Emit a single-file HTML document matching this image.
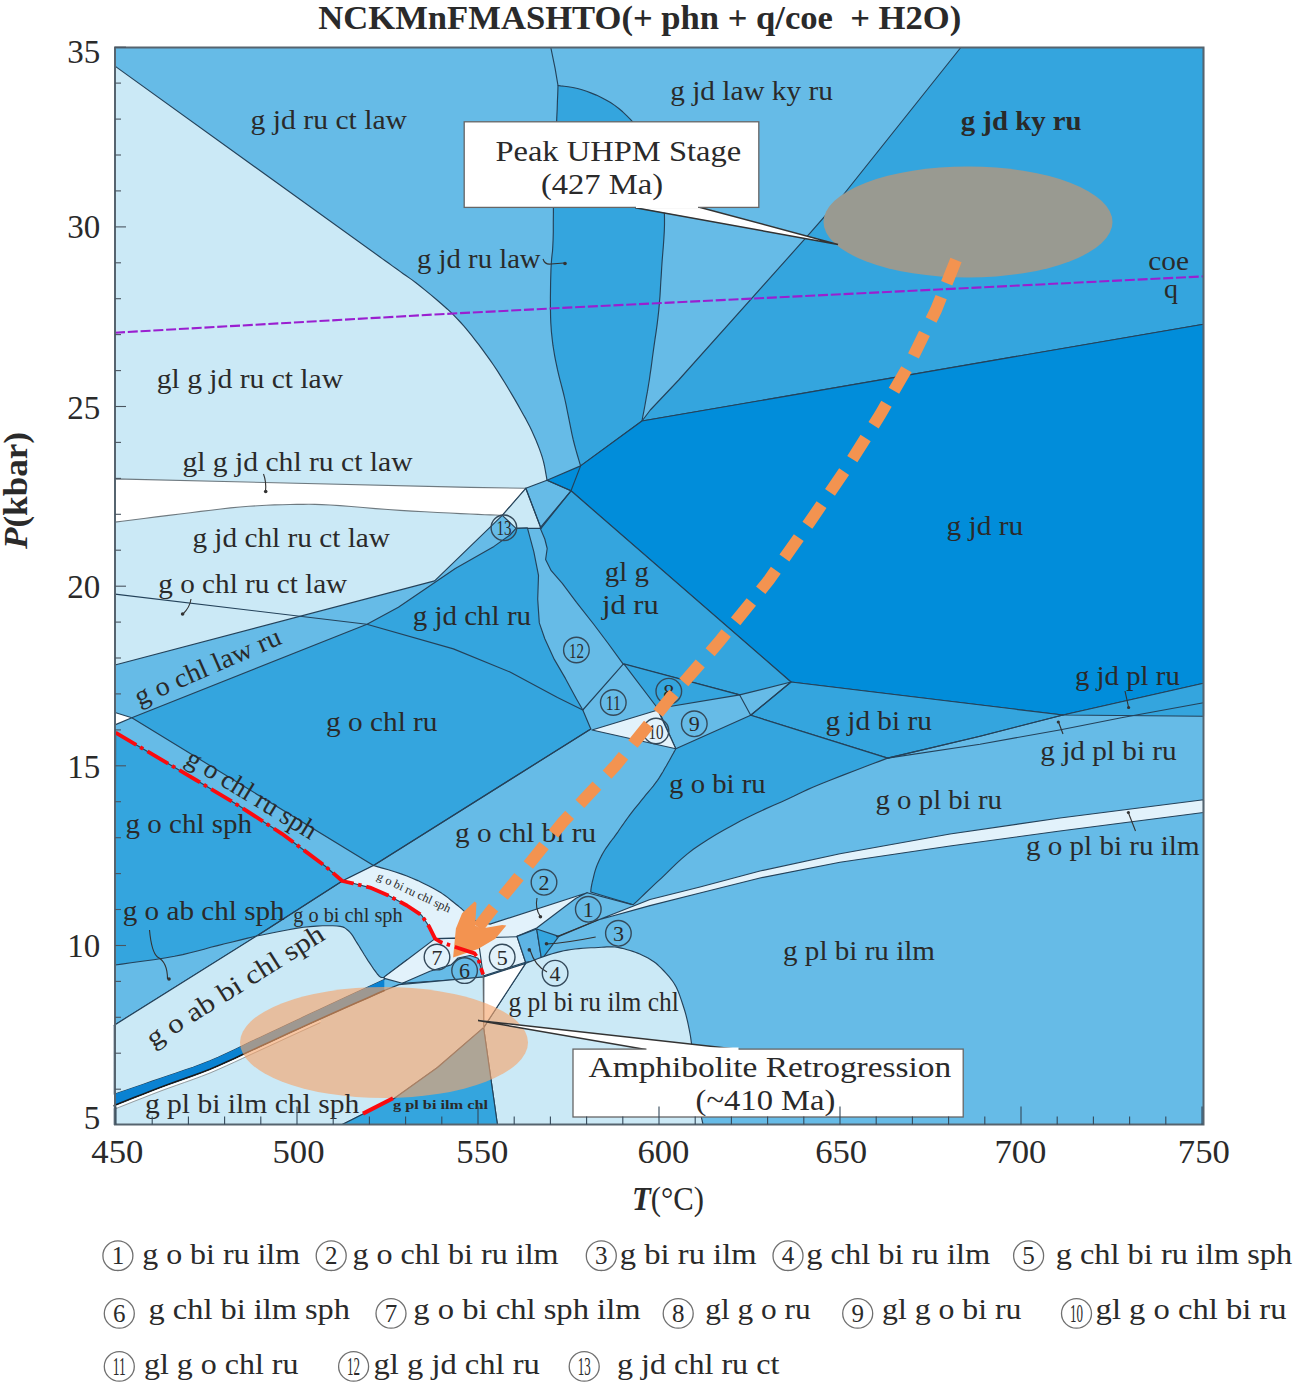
<!DOCTYPE html>
<html><head><meta charset="utf-8"><style>
html,body{margin:0;padding:0;background:#fff;}
svg{display:block;}
text{font-family:"Liberation Serif",serif;fill:#2a2a2a;}
</style></head><body>
<svg width="1302" height="1389" viewBox="0 0 1302 1389">
<rect width="1302" height="1389" fill="#fff"/>
<rect x="115" y="47.5" width="1088.5" height="1077.0" fill="#66bbe7"/>
<polygon points="115.0,66.1 380.0,257.0 382.2,258.6 385.2,260.7 388.8,263.3 392.6,266.1 396.4,268.8 400.0,271.4 403.2,273.7 406.2,275.8 409.2,277.9 412.4,280.1 415.9,282.8 420.0,286.0 424.8,289.9 430.3,294.4 436.1,299.2 441.9,304.3 447.5,309.2 452.5,313.9 456.8,318.3 460.7,322.5 464.4,326.6 467.9,330.9 471.4,335.2 475.0,339.8 478.8,344.6 482.5,349.7 486.3,354.8 490.1,360.1 493.8,365.5 497.4,370.9 501.0,376.6 504.7,382.5 508.3,388.5 511.8,394.4 515.2,400.1 518.2,405.4 520.9,410.2 523.4,414.7 525.8,418.9 527.9,423.0 530.0,427.1 532.0,431.3 534.0,435.7 535.9,440.1 537.7,444.5 539.4,448.9 540.9,453.1 542.3,457.3 543.5,461.6 544.5,466.0 545.3,470.4 546.0,474.4 546.6,477.7 547.0,480.2 525.8,488.3 502.3,515.3 434.6,580.9 115.0,665.0" fill="#cbe9f6" stroke="#24425a" stroke-width="1.15" stroke-linejoin="round"/>
<polygon points="115.0,478.9 470.0,487.4 525.8,488.3 502.3,515.3 499.2,515.2 495.3,515.0 490.5,514.9 484.8,514.7 477.9,514.4 470.0,514.0 460.5,513.6 449.5,513.0 437.4,512.5 424.7,511.8 412.1,511.1 400.0,510.4 388.0,509.5 375.6,508.6 363.1,507.5 351.1,506.5 339.9,505.6 330.0,505.0 321.7,504.6 314.8,504.4 308.8,504.3 303.0,504.3 296.9,504.4 290.0,504.5 282.4,504.7 274.4,504.9 266.2,505.3 257.8,505.7 249.0,506.3 240.0,507.0 230.6,507.9 220.9,509.0 210.9,510.2 200.7,511.4 190.4,512.7 180.0,514.0 168.7,515.4 156.3,516.9 143.8,518.5 132.0,520.0 122.1,521.2 115.0,522.1" fill="#ffffff" stroke="#6f7a80" stroke-width="1.15" stroke-linejoin="round"/>
<polygon points="525.8,488.3 541.0,528.4 516.0,528.4 502.3,515.3" fill="#cbe9f6" stroke="#24425a" stroke-width="1.15" stroke-linejoin="round"/>
<polyline points="550.8,47.5 555.1,68.4 558.0,85.5" fill="none" stroke="#24425a" stroke-width="1.15" stroke-linejoin="round" stroke-linecap="round" />
<polygon points="558.0,85.5 560.6,85.9 564.1,86.3 568.2,86.8 572.8,87.5 577.5,88.5 582.0,89.7 586.6,91.3 591.4,93.1 596.3,95.1 601.3,97.4 606.0,99.9 610.5,102.5 614.7,105.4 618.8,108.5 622.7,111.8 626.4,115.3 629.9,118.8 633.2,122.4 636.2,126.0 638.9,129.6 641.4,133.4 643.7,137.2 645.9,141.1 648.0,145.0 650.0,149.0 651.9,153.2 653.6,157.3 655.2,161.6 656.7,165.8 658.0,170.0 659.2,174.1 660.2,178.2 661.0,182.2 661.8,186.3 662.4,190.6 663.0,195.0 663.5,199.5 663.9,204.1 664.2,208.8 664.4,213.7 664.5,218.9 664.5,224.7 664.3,231.1 663.9,237.9 663.4,245.2 662.8,252.6 662.2,260.0 661.7,267.3 661.3,274.4 660.8,281.5 660.4,288.7 660.0,295.8 659.4,302.9 658.8,310.0 658.0,317.2 657.1,324.6 656.1,331.9 655.0,339.2 654.0,346.1 653.1,352.6 652.3,358.5 651.6,364.0 650.9,369.2 650.1,374.3 649.4,379.5 648.5,385.0 647.5,391.2 646.2,398.1 645.0,405.0 643.8,411.5 642.7,417.0 642.0,421.0 580.6,465.9 579.8,463.3 578.8,459.8 577.5,455.5 576.1,450.7 574.7,445.5 573.3,440.0 571.9,433.8 570.5,426.9 569.0,419.4 567.5,412.0 566.1,404.9 564.7,398.5 563.4,393.0 562.1,388.0 560.9,383.3 559.7,378.8 558.6,374.4 557.5,369.7 556.5,364.9 555.5,360.1 554.6,355.3 553.8,350.5 553.0,345.7 552.4,340.9 551.9,336.3 551.4,331.8 551.1,327.3 550.8,322.7 550.6,317.6 550.5,312.0 550.4,305.5 550.4,298.1 550.5,290.4 550.6,282.7 550.8,275.3 551.0,268.8 551.3,263.5 551.6,259.2 552.0,255.3 552.5,251.2 552.8,246.3 553.1,240.0 553.3,232.0 553.3,222.8 553.4,212.8 553.4,202.3 553.5,191.9 553.7,182.0 554.1,172.2 554.5,162.3 555.0,152.3 555.6,142.7 556.1,133.5 556.5,125.0 556.8,116.9 557.2,109.1 557.4,101.7 557.7,95.1 557.9,89.6" fill="#34a5de" stroke="#24425a" stroke-width="1.15" stroke-linejoin="round"/>
<polygon points="960.8,47.5 1203.5,47.5 1203.5,324.2 642.0,421.0 650.3,410.0 678.7,380.0 810.0,233.2 840.0,199.0" fill="#34a5de" stroke="#24425a" stroke-width="1.15" stroke-linejoin="round"/>
<polygon points="547.0,480.2 580.6,465.9 642.0,421.0 1203.5,324.2 1203.5,683.3 1063.0,715.0 791.0,682.0 571.0,490.8" fill="#018dda" stroke="#24425a" stroke-width="1.15" stroke-linejoin="round"/>
<polyline points="580.6,465.9 571.0,490.8" fill="none" stroke="#24425a" stroke-width="1.15" stroke-linejoin="round" stroke-linecap="round" />
<polygon points="571.0,490.8 791.0,682.0 739.7,694.9 623.2,664.1 608.2,643.5 593.9,624.5 576.5,602.3 562.3,583.3 551.2,570.7 545.6,559.6 547.2,548.5 544.8,539.0 540.1,527.9" fill="#34a5de" stroke="#24425a" stroke-width="1.15" stroke-linejoin="round"/>
<polygon points="623.9,663.9 739.7,694.9 657.8,708.5" fill="#34a5de" stroke="#24425a" stroke-width="1.15" stroke-linejoin="round"/>
<polyline points="657.8,708.5 675.8,748.8" fill="none" stroke="#24425a" stroke-width="1.15" stroke-linejoin="round" stroke-linecap="round" />
<polyline points="739.7,694.9 750.7,715.3" fill="none" stroke="#24425a" stroke-width="1.15" stroke-linejoin="round" stroke-linecap="round" />
<polyline points="582.8,710.0 623.2,664.1" fill="none" stroke="#24425a" stroke-width="1.15" stroke-linejoin="round" stroke-linecap="round" />
<polygon points="592.0,730.0 657.8,710.0 675.8,748.8" fill="#e2f2fb" stroke="#24425a" stroke-width="1.15" stroke-linejoin="round"/>
<polyline points="525.8,488.3 541.0,528.4" fill="none" stroke="#24425a" stroke-width="1.15" stroke-linejoin="round" stroke-linecap="round" />
<polyline points="541.0,528.4 571.0,490.8" fill="none" stroke="#24425a" stroke-width="1.15" stroke-linejoin="round" stroke-linecap="round" />
<polyline points="547.0,480.2 571.0,490.8" fill="none" stroke="#24425a" stroke-width="1.15" stroke-linejoin="round" stroke-linecap="round" />
<polygon points="791.0,682.0 1063.0,715.0 980.0,736.2 887.6,758.1 750.7,715.3" fill="#34a5de" stroke="#24425a" stroke-width="1.15" stroke-linejoin="round"/>
<polyline points="791.0,682.0 750.7,715.3" fill="none" stroke="#24425a" stroke-width="1.15" stroke-linejoin="round" stroke-linecap="round" />
<polygon points="1063.0,715.0 1203.5,683.3 1203.5,716.3" fill="#34a5de" stroke="#24425a" stroke-width="1.15" stroke-linejoin="round"/>
<polygon points="675.8,748.8 750.7,715.3 887.6,758.1 879.8,761.1 868.7,765.3 855.8,770.2 842.4,775.4 830.0,780.2 820.0,784.2 812.8,787.2 807.4,789.6 802.9,791.7 798.7,793.7 794.1,796.0 788.3,798.7 781.3,801.9 773.6,805.3 765.5,808.9 757.2,812.7 748.9,816.7 740.8,820.8 732.7,825.2 724.4,829.8 716.1,834.6 708.0,839.6 700.3,844.5 693.3,849.3 687.1,854.1 681.5,858.9 676.3,863.6 671.4,868.4 666.6,873.1 661.7,877.8 656.4,882.7 650.9,887.9 645.5,893.0 640.5,897.8 636.3,901.8 633.2,904.7 590.7,892.0 590.8,891.2 590.9,890.2 591.0,889.0 591.2,887.6 591.5,885.9 591.9,883.9 592.4,881.5 593.1,878.8 593.8,875.8 594.6,872.7 595.5,869.6 596.5,866.7 597.6,863.9 598.8,861.2 600.1,858.5 601.4,855.9 602.9,853.2 604.5,850.5 606.2,847.9 608.0,845.3 609.9,842.7 611.9,840.0 614.0,837.3 616.1,834.4 618.3,831.3 620.5,828.0 622.9,824.7 625.2,821.3 627.6,818.0 629.9,814.8 632.2,811.8 634.5,808.9 636.8,806.1 639.1,803.3 641.4,800.4 643.7,797.6 646.0,794.7 648.4,791.8 650.8,789.0 653.2,786.1 655.4,783.2 657.5,780.3 659.5,777.4 661.3,774.4 663.1,771.5 664.7,768.5 666.4,765.7 667.9,763.0 669.5,760.3 671.0,757.5 672.5,754.8 673.8,752.4 675.0,750.3" fill="#34a5de" stroke="#24425a" stroke-width="1.15" stroke-linejoin="round"/>
<polyline points="887.6,758.1 980.0,744.2 1059.5,730.0 1121.3,717.7 1203.5,702.7" fill="none" stroke="#24425a" stroke-width="1.15" stroke-linejoin="round" stroke-linecap="round" />
<polyline points="887.6,758.1 980.0,736.2 1063.0,715.0" fill="none" stroke="#24425a" stroke-width="1.15" stroke-linejoin="round" stroke-linecap="round" />
<polygon points="131.8,717.8 367.0,624.3 398.4,607.3 455.3,568.5 494.0,546.4 510.0,535.0 516.0,528.4 527.4,527.9 533.8,551.7 538.5,575.4 537.7,599.2 539.3,622.9 544.8,638.8 554.3,659.4 565.4,678.4 576.5,698.9 582.8,710.0 590.8,729.0 373.5,865.5" fill="#34a5de" stroke="#24425a" stroke-width="1.15" stroke-linejoin="round"/>
<polyline points="115.0,594.1 366.8,624.2 453.4,648.9 510.0,672.0 557.5,697.4 582.8,710.0" fill="none" stroke="#24425a" stroke-width="1.15" stroke-linejoin="round" stroke-linecap="round" />
<polygon points="115.0,712.5 131.8,717.8 115.0,724.9" fill="#ffffff" stroke="#24425a" stroke-width="1.15" stroke-linejoin="round"/>
<polygon points="115.6,732.7 196.0,780.0 239.0,805.8 282.0,833.8 325.0,866.0 342.3,881.0 256.7,936.0 252.5,937.0 246.7,938.4 239.8,940.1 232.3,942.0 224.7,943.8 217.5,945.6 210.7,947.3 204.1,949.2 197.3,951.0 190.2,952.8 182.7,954.6 174.5,956.3 164.8,958.0 153.7,959.7 142.1,961.3 131.0,962.8 121.7,964.1 115.0,965.0" fill="#34a5de" stroke="#24425a" stroke-width="1.15" stroke-linejoin="round"/>
<polyline points="114.3,1025.2 256.7,936.0 342.3,881.0 373.5,865.5 590.8,729.0" fill="none" stroke="#24425a" stroke-width="1.15" stroke-linejoin="round" stroke-linecap="round" />
<polygon points="114.3,1025.2 256.7,936.0 261.9,935.0 269.3,933.5 278.0,931.7 287.2,930.0 295.9,928.4 303.5,927.3 310.1,926.6 316.5,926.1 322.4,925.8 327.9,925.7 332.8,925.8 337.0,926.0 340.2,926.4 342.6,926.9 344.4,927.6 345.8,928.6 347.2,929.7 348.7,931.0 350.3,932.6 351.7,934.4 353.1,936.4 354.4,938.6 355.8,941.0 357.3,943.4 359.0,946.0 360.7,948.9 362.5,951.8 364.3,954.8 366.2,957.8 368.0,960.6 369.9,963.4 371.8,966.3 373.7,969.1 375.6,971.7 377.3,974.0 378.8,975.7 380.1,976.8 381.2,977.4 382.2,977.5 383.1,977.5 383.8,977.5 384.3,977.5 384.3,979.5 377.3,982.7 367.5,987.3 355.9,992.6 343.5,998.3 331.2,1004.0 320.0,1009.2 309.6,1014.0 299.3,1018.9 289.1,1023.7 279.1,1028.4 269.4,1033.0 260.0,1037.4 251.1,1041.6 242.6,1045.8 234.4,1049.8 226.3,1053.6 218.2,1057.3 210.0,1060.8 201.6,1064.1 193.2,1067.2 184.7,1070.1 176.3,1073.0 168.1,1075.7 160.0,1078.5 151.6,1081.4 142.8,1084.5 134.0,1087.5 126.0,1090.2 119.2,1092.5 114.3,1094.2" fill="#cbe9f6" stroke="#24425a" stroke-width="1.15" stroke-linejoin="round"/>
<polyline points="384.3,977.0 406.8,960.0" fill="none" stroke="#24425a" stroke-width="1.15" stroke-linejoin="round" stroke-linecap="round" />
<polygon points="342.3,881.0 373.5,865.5 377.2,866.6 382.3,868.1 388.3,869.8 394.7,871.8 401.1,873.9 406.9,876.0 412.3,878.2 417.8,880.6 423.2,883.2 428.4,885.7 433.2,888.3 437.6,890.7 441.5,893.1 445.0,895.5 448.2,897.9 451.0,900.2 453.6,902.3 456.0,904.2 458.0,905.8 459.6,907.1 461.0,908.2 462.2,909.3 463.3,910.4 464.6,911.6 466.0,913.0 467.4,914.6 468.8,916.3 470.1,917.8 471.2,919.1 472.0,920.0 490.0,924.1 587.1,892.7 576.0,898.3 536.7,928.0 517.0,936.4 525.6,962.2 480.7,976.8 483.1,974.3 480.6,966.9 478.1,958.3 474.5,953.4 456.0,947.2 441.3,942.3 435.1,938.6 429.0,926.4 421.6,915.3 406.9,905.5 388.4,895.6 370.0,887.6 352.9,883.3" fill="#e2f2fb" stroke="#24425a" stroke-width="1.15" stroke-linejoin="round"/>
<polygon points="435.1,938.6 478.0,938.0 483.1,974.3 484.3,977.8 402.3,983.3 384.3,978.4 384.3,976.9 406.8,960.0" fill="#e2f2fb" stroke="#24425a" stroke-width="1.15" stroke-linejoin="round"/>
<polygon points="402.3,983.3 429.9,971.3 451.1,964.9 458.0,958.0 470.0,955.5 478.1,958.3 480.6,966.9 483.1,974.3 484.3,977.8" fill="#66bbe7" stroke="#24425a" stroke-width="1.15" stroke-linejoin="round"/>
<polyline points="435.1,938.6 517.5,936.8" fill="none" stroke="#24425a" stroke-width="1.15" stroke-linejoin="round" stroke-linecap="round" />
<polygon points="517.0,936.4 536.7,929.0 541.6,959.7 525.6,962.2" fill="#5db4e4" stroke="#24425a" stroke-width="1.15" stroke-linejoin="round"/>
<polygon points="536.7,929.0 558.8,936.4 541.6,959.7" fill="#34a5de" stroke="#24425a" stroke-width="1.15" stroke-linejoin="round"/>
<polygon points="598.0,920.0 650.0,899.5 700.0,887.0 760.0,871.0 840.0,853.7 950.0,834.0 1060.0,818.0 1203.5,799.7 1203.5,812.5 1060.0,831.0 950.0,846.0 840.0,862.2 760.0,878.0 700.0,893.0 650.0,905.6" fill="#e2f2fb" stroke="#24425a" stroke-width="1.15" stroke-linejoin="round"/>
<polyline points="587.1,892.7 631.3,904.4" fill="none" stroke="#24425a" stroke-width="1.15" stroke-linejoin="round" stroke-linecap="round" />
<polyline points="598.0,920.0 558.8,936.4" fill="none" stroke="#24425a" stroke-width="1.15" stroke-linejoin="round" stroke-linecap="round" />
<polygon points="525.6,963.4 528.5,962.3 532.6,960.7 537.5,958.8 542.6,956.9 547.7,955.1 552.2,953.7 556.2,952.6 560.1,951.6 563.8,950.8 567.5,950.1 571.2,949.5 575.0,949.0 578.9,948.6 582.9,948.2 587.0,948.0 590.9,947.8 594.7,947.7 598.2,947.5 601.4,947.3 604.2,947.1 606.9,946.9 609.6,946.8 612.2,946.8 615.0,947.0 618.0,947.4 621.0,948.1 624.1,948.8 627.2,949.7 630.1,950.5 632.8,951.4 635.3,952.2 637.6,953.1 639.8,954.0 641.8,954.9 643.9,955.9 646.0,957.0 648.0,958.1 650.0,959.2 651.9,960.4 653.9,961.7 656.0,963.3 658.2,965.3 660.7,967.7 663.5,970.5 666.4,973.6 669.3,976.9 672.0,980.3 674.3,983.7 676.3,987.3 678.0,991.0 679.5,994.9 680.9,998.9 682.2,1002.8 683.5,1006.7 684.7,1010.5 685.8,1014.4 686.8,1018.3 687.7,1022.1 688.5,1026.0 689.3,1029.8 690.0,1033.5 690.6,1037.0 691.1,1040.6 691.6,1044.3 692.1,1048.3 692.7,1052.8 693.4,1058.0 694.1,1063.9 694.9,1070.1 695.6,1076.3 696.3,1082.2 697.0,1087.4 697.6,1092.0 698.1,1096.1 698.6,1100.0 699.0,1103.5 699.5,1106.8 700.0,1110.0 700.5,1113.1 701.1,1116.0 701.7,1118.7 702.2,1121.0 702.7,1123.0 703.0,1124.5 497.4,1124.5 483.6,1027.6" fill="#cbe9f6" stroke="#24425a" stroke-width="1.15" stroke-linejoin="round"/>
<polygon points="483.6,976.9 525.6,963.4 483.6,1027.6" fill="#ffffff" stroke="#24425a" stroke-width="1.15" stroke-linejoin="round"/>
<polygon points="114.3,1105.5 119.2,1103.5 126.0,1100.8 134.0,1097.6 142.8,1094.2 151.6,1090.7 160.0,1087.5 168.1,1084.5 176.3,1081.6 184.7,1078.6 193.2,1075.6 201.6,1072.5 210.0,1069.2 218.2,1065.7 226.3,1062.1 234.4,1058.4 242.6,1054.6 251.1,1050.6 260.0,1046.5 269.4,1042.2 279.1,1037.7 289.1,1033.1 299.3,1028.4 309.6,1023.7 320.0,1019.0 331.2,1014.0 343.5,1008.5 355.9,1003.0 367.5,997.9 377.3,993.6 384.3,990.5 399.0,984.6 483.6,976.9 483.6,1027.6 437.5,1067.5 394.5,1098.2 342.3,1124.5 114.3,1124.5" fill="#cbe9f6" stroke="#24425a" stroke-width="1.15" stroke-linejoin="round"/>
<polygon points="342.3,1124.5 394.5,1098.2 437.5,1067.5 483.6,1027.6 497.4,1124.5" fill="#34a5de" stroke="#24425a" stroke-width="1.15" stroke-linejoin="round"/>
<polyline points="483.1,974.3 483.6,1027.6" fill="none" stroke="#777" stroke-width="1" stroke-linejoin="round" stroke-linecap="round" />
<polygon points="384.3,979.5 377.3,982.7 367.5,987.3 355.9,992.6 343.5,998.3 331.2,1004.0 320.0,1009.2 309.6,1014.0 299.3,1018.9 289.1,1023.7 279.1,1028.4 269.4,1033.0 260.0,1037.4 251.1,1041.6 242.6,1045.8 234.4,1049.8 226.3,1053.6 218.2,1057.3 210.0,1060.8 201.6,1064.1 193.2,1067.2 184.7,1070.1 176.3,1073.0 168.1,1075.7 160.0,1078.5 151.6,1081.4 142.8,1084.5 134.0,1087.5 126.0,1090.2 119.2,1092.5 114.3,1094.2 114.3,1105.5 119.2,1103.5 126.0,1100.8 134.0,1097.6 142.8,1094.2 151.6,1090.7 160.0,1087.5 168.1,1084.5 176.3,1081.6 184.7,1078.6 193.2,1075.6 201.6,1072.5 210.0,1069.2 218.2,1065.7 226.3,1062.1 234.4,1058.4 242.6,1054.6 251.1,1050.6 260.0,1046.5 269.4,1042.2 279.1,1037.7 289.1,1033.1 299.3,1028.4 309.6,1023.7 320.0,1019.0 331.2,1014.0 343.5,1008.5 355.9,1003.0 367.5,997.9 377.3,993.6 384.3,990.5" fill="#0a82d2" stroke="none" stroke-width="0" stroke-linejoin="round"/>
<polyline points="114.3,1105.5 119.2,1103.5 126.0,1100.8 134.0,1097.6 142.8,1094.2 151.6,1090.7 160.0,1087.5 168.1,1084.5 176.3,1081.6 184.7,1078.6 193.2,1075.6 201.6,1072.5 210.0,1069.2 218.2,1065.7 226.3,1062.1 234.4,1058.4 242.6,1054.6 251.1,1050.6 260.0,1046.5 269.4,1042.2 279.1,1037.7 289.1,1033.1 299.3,1028.4 309.6,1023.7 320.0,1019.0 331.2,1014.0 343.5,1008.5 355.9,1003.0 367.5,997.9 377.3,993.6 384.3,990.5" fill="none" stroke="#1a1a1a" stroke-width="1.6" stroke-linejoin="round" stroke-linecap="round" />
<polyline points="114.3,1107.7 119.2,1105.7 126.0,1103.0 134.0,1099.8 142.8,1096.4 151.6,1092.9 160.0,1089.7 168.1,1086.7 176.3,1083.8 184.7,1080.8 193.2,1077.8 201.6,1074.7 210.0,1071.4 218.2,1067.9 226.3,1064.3 234.4,1060.6 242.6,1056.8 251.1,1052.8 260.0,1048.7 269.4,1044.4 279.1,1039.9 289.1,1035.3 299.3,1030.6 309.6,1025.9 320.0,1021.2" fill="none" stroke="#ffffff" stroke-width="1.8" stroke-linejoin="round" stroke-linecap="round" />
<polyline points="114.3,1109.3 119.2,1107.3 126.0,1104.6 134.0,1101.4 142.8,1098.0 151.6,1094.5 160.0,1091.3 168.1,1088.3 176.3,1085.4 184.7,1082.4 193.2,1079.4 201.6,1076.3 210.0,1073.0 218.2,1069.5 226.3,1065.9 234.4,1062.2 242.6,1058.4 251.1,1054.4 260.0,1050.3 269.4,1046.0 279.1,1041.5 289.1,1036.9 299.3,1032.2 309.6,1027.5 320.0,1022.8" fill="none" stroke="#8a8a8a" stroke-width="0.8" stroke-linejoin="round" stroke-linecap="round" />
<polyline points="115.0,332.7 440.0,314.2 580.0,307.0 810.0,295.8 1203.5,276.4" fill="none" stroke="#9a1fd0" stroke-width="2.1" stroke-linejoin="round" stroke-linecap="butt" stroke-dasharray="10,2.8"/>
<ellipse cx="968" cy="222" rx="144.5" ry="55.5" fill="#999a91"/>
<ellipse cx="384" cy="1042.5" rx="144" ry="55.5" fill="#f5a46c" fill-opacity="0.63"/>
<polyline points="363.0,1113.6 393.0,1098.2" fill="none" stroke="#fb0a0e" stroke-width="4" stroke-linejoin="round" stroke-linecap="butt" />
<text x="250.6" y="128.6" font-size="27" text-anchor="start" fill="#333333" textLength="156.4" lengthAdjust="spacingAndGlyphs" >g jd ru ct law</text>
<text x="670.3" y="100.2" font-size="27" text-anchor="start" fill="#333333" textLength="162.5" lengthAdjust="spacingAndGlyphs" >g jd law ky ru</text>
<text x="417.1" y="268.3" font-size="27" text-anchor="start" fill="#333333" textLength="123.5" lengthAdjust="spacingAndGlyphs" >g jd ru law</text>
<text x="1148.3" y="269.8" font-size="27" text-anchor="start" fill="#333333" textLength="40.7" lengthAdjust="spacingAndGlyphs" >coe</text>
<text x="1164.0" y="298.0" font-size="27" text-anchor="start" fill="#333333" textLength="14.0" lengthAdjust="spacingAndGlyphs" >q</text>
<text x="156.8" y="387.7" font-size="27" text-anchor="start" fill="#333333" textLength="186.2" lengthAdjust="spacingAndGlyphs" >gl g jd ru ct law</text>
<text x="182.4" y="470.5" font-size="27" text-anchor="start" fill="#333333" textLength="230.2" lengthAdjust="spacingAndGlyphs" >gl g jd chl ru ct law</text>
<text x="192.4" y="547.2" font-size="27" text-anchor="start" fill="#333333" textLength="197.5" lengthAdjust="spacingAndGlyphs" >g jd chl ru ct law</text>
<text x="158.3" y="592.7" font-size="27" text-anchor="start" fill="#333333" textLength="188.9" lengthAdjust="spacingAndGlyphs" >g o chl ru ct law</text>
<text x="946.6" y="534.5" font-size="27" text-anchor="start" fill="#333333" textLength="76.7" lengthAdjust="spacingAndGlyphs" >g jd ru</text>
<text x="604.8" y="581.2" font-size="27" text-anchor="start" fill="#333333" textLength="44.1" lengthAdjust="spacingAndGlyphs" >gl g</text>
<text x="602.0" y="614.0" font-size="27" text-anchor="start" fill="#333333" textLength="56.8" lengthAdjust="spacingAndGlyphs" >jd ru</text>
<text x="412.7" y="625.2" font-size="27" text-anchor="start" fill="#333333" textLength="118.4" lengthAdjust="spacingAndGlyphs" >g jd chl ru</text>
<text x="326.1" y="731.2" font-size="27" text-anchor="start" fill="#333333" textLength="111.4" lengthAdjust="spacingAndGlyphs" >g o chl ru</text>
<text x="125.6" y="833.1" font-size="27" text-anchor="start" fill="#333333" textLength="126.4" lengthAdjust="spacingAndGlyphs" >g o chl sph</text>
<text x="122.7" y="919.8" font-size="27" text-anchor="start" fill="#333333" textLength="162.0" lengthAdjust="spacingAndGlyphs" >g o ab chl sph</text>
<text x="144.9" y="1113.0" font-size="27" text-anchor="start" fill="#333333" textLength="214.3" lengthAdjust="spacingAndGlyphs" >g pl bi ilm chl sph</text>
<text x="455.0" y="842.3" font-size="27" text-anchor="start" fill="#333333" textLength="141.0" lengthAdjust="spacingAndGlyphs" >g o chl bi ru</text>
<text x="669.1" y="793.4" font-size="27" text-anchor="start" fill="#333333" textLength="96.6" lengthAdjust="spacingAndGlyphs" >g o bi ru</text>
<text x="825.4" y="730.1" font-size="27" text-anchor="start" fill="#333333" textLength="106.4" lengthAdjust="spacingAndGlyphs" >g jd bi ru</text>
<text x="1075.0" y="685.0" font-size="27" text-anchor="start" fill="#333333" textLength="104.8" lengthAdjust="spacingAndGlyphs" >g jd pl ru</text>
<text x="1040.3" y="759.5" font-size="27" text-anchor="start" fill="#333333" textLength="136.4" lengthAdjust="spacingAndGlyphs" >g jd pl bi ru</text>
<text x="875.5" y="809.2" font-size="27" text-anchor="start" fill="#333333" textLength="126.5" lengthAdjust="spacingAndGlyphs" >g o pl bi ru</text>
<text x="1026.0" y="854.7" font-size="27" text-anchor="start" fill="#333333" textLength="173.5" lengthAdjust="spacingAndGlyphs" >g o pl bi ru ilm</text>
<text x="783.0" y="959.8" font-size="27" text-anchor="start" fill="#333333" textLength="152.0" lengthAdjust="spacingAndGlyphs" >g pl bi ru ilm</text>
<text x="508.4" y="1011.2" font-size="27" text-anchor="start" fill="#333333" textLength="170.5" lengthAdjust="spacingAndGlyphs" >g pl bi ru ilm chl</text>
<text x="960.8" y="129.5" font-size="27" font-weight="bold" text-anchor="start" fill="#333333" textLength="120.7" lengthAdjust="spacingAndGlyphs" >g jd ky ru</text>
<text x="293.2" y="921.7" font-size="20" text-anchor="start" fill="#333333" textLength="109.4" lengthAdjust="spacingAndGlyphs" >g o bi chl sph</text>
<text x="393.0" y="1109.0" font-size="13" font-weight="bold" text-anchor="start" fill="#3f6f93" textLength="95.0" lengthAdjust="spacingAndGlyphs" >g pl bi ilm chl</text>
<text x="139.0" y="706.0" font-size="27" text-anchor="start" fill="#333333" textLength="157.0" lengthAdjust="spacingAndGlyphs" transform="rotate(-23.5 139 706)" >g o chl law ru</text>
<text x="184.0" y="763.0" font-size="27" text-anchor="start" fill="#333333" textLength="148.0" lengthAdjust="spacingAndGlyphs" transform="rotate(31.4 184 763)" >g o chl ru sph</text>
<text x="153.0" y="1048.0" font-size="27" text-anchor="start" fill="#333333" textLength="205.0" lengthAdjust="spacingAndGlyphs" transform="rotate(-32.2 153 1048)" >g o ab bi chl sph</text>
<text x="376.0" y="879.0" font-size="12" text-anchor="start" fill="#555" textLength="80.0" lengthAdjust="spacingAndGlyphs" transform="rotate(25 376 879)" >g o bi ru chl sph</text>
<polygon points="635.2,207.2 838,244.5 699.4,207.2" fill="#fff" stroke="none"/>
<polyline points="635.2,207.7 838,244.5 699.4,207.2" fill="none" stroke="#333" stroke-width="1.4"/>
<rect x="464.2" y="121.8" width="294.6" height="85.6" fill="#fff" stroke="#666" stroke-width="1.3"/>
<rect x="636" y="205" width="62" height="3" fill="#fff"/>
<text x="495.4" y="160.8" font-size="30" text-anchor="start" fill="#333333" textLength="245.8" lengthAdjust="spacingAndGlyphs" >Peak UHPM Stage</text>
<text x="540.9" y="193.5" font-size="30" text-anchor="start" fill="#333333" textLength="122.1" lengthAdjust="spacingAndGlyphs" >(427 Ma)</text>
<polygon points="645.7,1049.5 478,1020 739.5,1049.5" fill="#fff" stroke="none"/>
<polyline points="645.7,1049.5 478,1020.5 739.5,1049.5" fill="none" stroke="#333" stroke-width="1.4"/>
<rect x="573" y="1049.1" width="390.2" height="67.9" fill="#fff" stroke="#666" stroke-width="1.3"/>
<rect x="646.5" y="1047.5" width="92" height="3" fill="#fff"/>
<text x="588.6" y="1077.1" font-size="30" text-anchor="start" fill="#333333" textLength="362.6" lengthAdjust="spacingAndGlyphs" >Amphibolite Retrogression</text>
<text x="695.6" y="1109.8" font-size="30" text-anchor="start" fill="#333333" textLength="139.8" lengthAdjust="spacingAndGlyphs" >(~410 Ma)</text>
<path d="M543,259 q2,6 8,5 l13,-1" fill="none" stroke="#333" stroke-width="1.1"/><circle cx="565" cy="263.5" r="1.8" fill="#333"/>
<path d="M263.5,474 q3,8 2,17" fill="none" stroke="#333" stroke-width="1.1"/><circle cx="265.7" cy="491.5" r="1.8" fill="#333"/>
<path d="M191,599 q-1,8 -8,15" fill="none" stroke="#333" stroke-width="1.1"/><circle cx="182.6" cy="614" r="1.8" fill="#333"/>
<path d="M149.5,930 q2,22 8,27 q10,5 10,22" fill="none" stroke="#333" stroke-width="1.1"/><circle cx="169" cy="979" r="1.8" fill="#333"/>
<path d="M1125,691 l3.5,16" fill="none" stroke="#333" stroke-width="1.1"/><circle cx="1128.6" cy="707.5" r="1.6" fill="#333"/>
<path d="M1063,734 l-4.5,-12" fill="none" stroke="#333" stroke-width="1.1"/><circle cx="1058.3" cy="722" r="1.6" fill="#333"/>
<path d="M1135.5,831 l-7,-18" fill="none" stroke="#333" stroke-width="1.1"/><circle cx="1128.4" cy="812.5" r="1.6" fill="#333"/>
<path d="M537,898 q-2,10 3,18" fill="none" stroke="#333" stroke-width="1.1"/><circle cx="540.4" cy="916.7" r="1.8" fill="#333"/>
<path d="M547,972 q-12,-6 -17,-22" fill="none" stroke="#333" stroke-width="1.1"/><circle cx="529.3" cy="949.9" r="1.8" fill="#333"/>
<path d="M595.7,937 q-30,6 -49,7" fill="none" stroke="#333" stroke-width="1.1"/><circle cx="546.5" cy="943.7" r="1.8" fill="#333"/>
<path d="M598,920 l-42,17" fill="none" stroke="#333" stroke-width="1.1"/>
<ellipse cx="588.3" cy="909.3" rx="12.8" ry="12.8" fill="none" stroke="#34495a" stroke-width="1.4"/><text x="588.3" y="916.8" font-size="22" text-anchor="middle" fill="#34495a">1</text>
<ellipse cx="544" cy="882.3" rx="12.8" ry="12.8" fill="none" stroke="#34495a" stroke-width="1.4"/><text x="544" y="889.8" font-size="22" text-anchor="middle" fill="#34495a">2</text>
<ellipse cx="618.4" cy="933.3" rx="12.8" ry="12.8" fill="none" stroke="#34495a" stroke-width="1.4"/><text x="618.4" y="940.8" font-size="22" text-anchor="middle" fill="#34495a">3</text>
<ellipse cx="555.1" cy="973.2" rx="12.8" ry="12.8" fill="none" stroke="#34495a" stroke-width="1.4"/><text x="555.1" y="980.7" font-size="22" text-anchor="middle" fill="#34495a">4</text>
<ellipse cx="502.2" cy="957.1" rx="12.8" ry="12.8" fill="none" stroke="#34495a" stroke-width="1.4"/><text x="502.2" y="964.6" font-size="22" text-anchor="middle" fill="#34495a">5</text>
<ellipse cx="464.6" cy="970.6" rx="12.8" ry="12.8" fill="none" stroke="#34495a" stroke-width="1.4"/><text x="464.6" y="978.1" font-size="22" text-anchor="middle" fill="#34495a">6</text>
<ellipse cx="437" cy="957.1" rx="12.8" ry="12.8" fill="none" stroke="#34495a" stroke-width="1.4"/><text x="437" y="964.6" font-size="22" text-anchor="middle" fill="#34495a">7</text>
<ellipse cx="668.8" cy="691.2" rx="12.8" ry="12.8" fill="none" stroke="#34495a" stroke-width="1.4"/><text x="668.8" y="698.7" font-size="22" text-anchor="middle" fill="#34495a">8</text>
<ellipse cx="694.3" cy="723.8" rx="12.8" ry="12.8" fill="none" stroke="#34495a" stroke-width="1.4"/><text x="694.3" y="731.3" font-size="22" text-anchor="middle" fill="#34495a">9</text>
<ellipse cx="656" cy="731" rx="12.8" ry="12.8" fill="none" stroke="#34495a" stroke-width="1.4"/><text x="656" y="738.5" font-size="22" text-anchor="middle" fill="#34495a" textLength="15" lengthAdjust="spacingAndGlyphs">10</text>
<ellipse cx="613.3" cy="702.5" rx="12.8" ry="12.8" fill="none" stroke="#34495a" stroke-width="1.4"/><text x="613.3" y="710.0" font-size="22" text-anchor="middle" fill="#34495a" textLength="15" lengthAdjust="spacingAndGlyphs">11</text>
<ellipse cx="576.4" cy="650" rx="12.8" ry="12.8" fill="none" stroke="#34495a" stroke-width="1.4"/><text x="576.4" y="657.5" font-size="22" text-anchor="middle" fill="#34495a" textLength="15" lengthAdjust="spacingAndGlyphs">12</text>
<ellipse cx="503.9" cy="527.8" rx="12.8" ry="12.8" fill="none" stroke="#34495a" stroke-width="1.4"/><text x="503.9" y="535.3" font-size="22" text-anchor="middle" fill="#34495a" textLength="15" lengthAdjust="spacingAndGlyphs">13</text>
<polyline points="956.0,260.0 936.0,310.0 910.0,363.0 880.0,415.0 848.0,466.0 809.0,523.0 769.0,580.0 719.0,642.0 671.0,697.0 616.0,765.0 563.0,822.0 513.0,884.0 490.0,912.0 477.0,929.0" fill="none" stroke="#f39350" stroke-width="12" stroke-dasharray="25,15" />
<polygon points="453.1,957.4 455.9,928.4 462.1,913.2 474.6,901.4 476.5,903 475.2,925.6 481.5,928.4 502.2,924.9 506.3,925.6 495.3,938.7 478,949.1" fill="#f39350"/>
<polyline points="115.6,732.7 196.0,780.0 239.0,805.8 282.0,833.8 325.0,866.0 342.3,881.0 352.9,883.3 370.0,887.6 388.4,895.6 406.9,905.5 421.6,915.3 429.0,926.4 435.1,938.6 441.3,942.3 456.0,947.2 474.5,953.4 478.1,958.3 480.6,966.9 483.1,974.3" fill="none" stroke="#fb0a0e" stroke-width="3.8" stroke-linejoin="round" stroke-linecap="butt" stroke-dasharray="24,4.5,3.5,5"/>
<rect x="115" y="47.5" width="1088.5" height="1077.0" fill="none" stroke="#56646f" stroke-width="2"/>
<line x1="115" y1="47.2" x2="126" y2="47.2" stroke="#4a5560" stroke-width="1.1"/>
<line x1="115" y1="83.1" x2="121" y2="83.1" stroke="#4a5560" stroke-width="1.1"/>
<line x1="115" y1="119.1" x2="121" y2="119.1" stroke="#4a5560" stroke-width="1.1"/>
<line x1="115" y1="155.0" x2="121" y2="155.0" stroke="#4a5560" stroke-width="1.1"/>
<line x1="115" y1="190.9" x2="121" y2="190.9" stroke="#4a5560" stroke-width="1.1"/>
<line x1="115" y1="226.9" x2="126" y2="226.9" stroke="#4a5560" stroke-width="1.1"/>
<line x1="115" y1="262.8" x2="121" y2="262.8" stroke="#4a5560" stroke-width="1.1"/>
<line x1="115" y1="298.7" x2="121" y2="298.7" stroke="#4a5560" stroke-width="1.1"/>
<line x1="115" y1="334.6" x2="121" y2="334.6" stroke="#4a5560" stroke-width="1.1"/>
<line x1="115" y1="370.6" x2="121" y2="370.6" stroke="#4a5560" stroke-width="1.1"/>
<line x1="115" y1="406.5" x2="126" y2="406.5" stroke="#4a5560" stroke-width="1.1"/>
<line x1="115" y1="442.4" x2="121" y2="442.4" stroke="#4a5560" stroke-width="1.1"/>
<line x1="115" y1="478.4" x2="121" y2="478.4" stroke="#4a5560" stroke-width="1.1"/>
<line x1="115" y1="514.3" x2="121" y2="514.3" stroke="#4a5560" stroke-width="1.1"/>
<line x1="115" y1="550.2" x2="121" y2="550.2" stroke="#4a5560" stroke-width="1.1"/>
<line x1="115" y1="586.2" x2="126" y2="586.2" stroke="#4a5560" stroke-width="1.1"/>
<line x1="115" y1="622.1" x2="121" y2="622.1" stroke="#4a5560" stroke-width="1.1"/>
<line x1="115" y1="658.0" x2="121" y2="658.0" stroke="#4a5560" stroke-width="1.1"/>
<line x1="115" y1="693.9" x2="121" y2="693.9" stroke="#4a5560" stroke-width="1.1"/>
<line x1="115" y1="729.9" x2="121" y2="729.9" stroke="#4a5560" stroke-width="1.1"/>
<line x1="115" y1="765.8" x2="126" y2="765.8" stroke="#4a5560" stroke-width="1.1"/>
<line x1="115" y1="801.7" x2="121" y2="801.7" stroke="#4a5560" stroke-width="1.1"/>
<line x1="115" y1="837.7" x2="121" y2="837.7" stroke="#4a5560" stroke-width="1.1"/>
<line x1="115" y1="873.6" x2="121" y2="873.6" stroke="#4a5560" stroke-width="1.1"/>
<line x1="115" y1="909.5" x2="121" y2="909.5" stroke="#4a5560" stroke-width="1.1"/>
<line x1="115" y1="945.5" x2="126" y2="945.5" stroke="#4a5560" stroke-width="1.1"/>
<line x1="115" y1="981.4" x2="121" y2="981.4" stroke="#4a5560" stroke-width="1.1"/>
<line x1="115" y1="1017.3" x2="121" y2="1017.3" stroke="#4a5560" stroke-width="1.1"/>
<line x1="115" y1="1053.2" x2="121" y2="1053.2" stroke="#4a5560" stroke-width="1.1"/>
<line x1="115" y1="1089.2" x2="121" y2="1089.2" stroke="#4a5560" stroke-width="1.1"/>
<line x1="116.0" y1="1124.5" x2="116.0" y2="1106.5" stroke="#34495a" stroke-width="1.1"/>
<line x1="152.2" y1="1124.5" x2="152.2" y2="1116.5" stroke="#34495a" stroke-width="1.1"/>
<line x1="188.4" y1="1124.5" x2="188.4" y2="1116.5" stroke="#34495a" stroke-width="1.1"/>
<line x1="224.6" y1="1124.5" x2="224.6" y2="1116.5" stroke="#34495a" stroke-width="1.1"/>
<line x1="260.8" y1="1124.5" x2="260.8" y2="1116.5" stroke="#34495a" stroke-width="1.1"/>
<line x1="297.0" y1="1124.5" x2="297.0" y2="1106.5" stroke="#34495a" stroke-width="1.1"/>
<line x1="333.2" y1="1124.5" x2="333.2" y2="1116.5" stroke="#34495a" stroke-width="1.1"/>
<line x1="369.4" y1="1124.5" x2="369.4" y2="1116.5" stroke="#34495a" stroke-width="1.1"/>
<line x1="405.6" y1="1124.5" x2="405.6" y2="1116.5" stroke="#34495a" stroke-width="1.1"/>
<line x1="441.8" y1="1124.5" x2="441.8" y2="1116.5" stroke="#34495a" stroke-width="1.1"/>
<line x1="478.0" y1="1124.5" x2="478.0" y2="1106.5" stroke="#34495a" stroke-width="1.1"/>
<line x1="514.2" y1="1124.5" x2="514.2" y2="1116.5" stroke="#34495a" stroke-width="1.1"/>
<line x1="550.4" y1="1124.5" x2="550.4" y2="1116.5" stroke="#34495a" stroke-width="1.1"/>
<line x1="586.6" y1="1124.5" x2="586.6" y2="1116.5" stroke="#34495a" stroke-width="1.1"/>
<line x1="622.8" y1="1124.5" x2="622.8" y2="1116.5" stroke="#34495a" stroke-width="1.1"/>
<line x1="659.0" y1="1124.5" x2="659.0" y2="1106.5" stroke="#34495a" stroke-width="1.1"/>
<line x1="695.2" y1="1124.5" x2="695.2" y2="1116.5" stroke="#34495a" stroke-width="1.1"/>
<line x1="731.4" y1="1124.5" x2="731.4" y2="1116.5" stroke="#34495a" stroke-width="1.1"/>
<line x1="767.6" y1="1124.5" x2="767.6" y2="1116.5" stroke="#34495a" stroke-width="1.1"/>
<line x1="803.8" y1="1124.5" x2="803.8" y2="1116.5" stroke="#34495a" stroke-width="1.1"/>
<line x1="840.0" y1="1124.5" x2="840.0" y2="1106.5" stroke="#34495a" stroke-width="1.1"/>
<line x1="876.2" y1="1124.5" x2="876.2" y2="1116.5" stroke="#34495a" stroke-width="1.1"/>
<line x1="912.4" y1="1124.5" x2="912.4" y2="1116.5" stroke="#34495a" stroke-width="1.1"/>
<line x1="948.6" y1="1124.5" x2="948.6" y2="1116.5" stroke="#34495a" stroke-width="1.1"/>
<line x1="984.8" y1="1124.5" x2="984.8" y2="1116.5" stroke="#34495a" stroke-width="1.1"/>
<line x1="1021.0" y1="1124.5" x2="1021.0" y2="1106.5" stroke="#34495a" stroke-width="1.1"/>
<line x1="1057.2" y1="1124.5" x2="1057.2" y2="1116.5" stroke="#34495a" stroke-width="1.1"/>
<line x1="1093.4" y1="1124.5" x2="1093.4" y2="1116.5" stroke="#34495a" stroke-width="1.1"/>
<line x1="1129.6" y1="1124.5" x2="1129.6" y2="1116.5" stroke="#34495a" stroke-width="1.1"/>
<line x1="1165.8" y1="1124.5" x2="1165.8" y2="1116.5" stroke="#34495a" stroke-width="1.1"/>
<line x1="1202.0" y1="1124.5" x2="1202.0" y2="1106.5" stroke="#34495a" stroke-width="1.1"/>
<text x="100.2" y="62.6" font-size="33" text-anchor="end" fill="#222" >35</text>
<text x="100.2" y="238.4" font-size="33" text-anchor="end" fill="#222" >30</text>
<text x="100.2" y="419.0" font-size="33" text-anchor="end" fill="#222" >25</text>
<text x="100.2" y="597.6" font-size="33" text-anchor="end" fill="#222" >20</text>
<text x="100.2" y="778.0" font-size="33" text-anchor="end" fill="#222" >15</text>
<text x="100.2" y="956.7" font-size="33" text-anchor="end" fill="#222" >10</text>
<text x="100.2" y="1129.0" font-size="33" text-anchor="end" fill="#222" >5</text>
<text x="117.3" y="1163.3" font-size="33" text-anchor="middle" fill="#222" textLength="52.0" lengthAdjust="spacingAndGlyphs" >450</text>
<text x="298.5" y="1163.3" font-size="33" text-anchor="middle" fill="#222" textLength="52.0" lengthAdjust="spacingAndGlyphs" >500</text>
<text x="482.3" y="1163.3" font-size="33" text-anchor="middle" fill="#222" textLength="52.0" lengthAdjust="spacingAndGlyphs" >550</text>
<text x="663.4" y="1163.3" font-size="33" text-anchor="middle" fill="#222" textLength="52.0" lengthAdjust="spacingAndGlyphs" >600</text>
<text x="841.2" y="1163.3" font-size="33" text-anchor="middle" fill="#222" textLength="52.0" lengthAdjust="spacingAndGlyphs" >650</text>
<text x="1020.4" y="1163.3" font-size="33" text-anchor="middle" fill="#222" textLength="52.0" lengthAdjust="spacingAndGlyphs" >700</text>
<text x="1203.8" y="1163.3" font-size="33" text-anchor="middle" fill="#222" textLength="52.0" lengthAdjust="spacingAndGlyphs" >750</text>
<text x="0" y="0" transform="translate(26.5,549) rotate(-90)" font-size="33" font-weight="bold" fill="#222" textLength="117" lengthAdjust="spacingAndGlyphs"><tspan font-style="italic">P</tspan>(kbar)</text>
<text x="632" y="1209.8" font-size="33" fill="#222" textLength="72" lengthAdjust="spacingAndGlyphs"><tspan font-style="italic" font-weight="bold">T</tspan>(°C)</text>
<text x="318.3" y="28.8" font-size="33" font-weight="bold" text-anchor="start" fill="#222" textLength="643.0" lengthAdjust="spacingAndGlyphs" xml:space="preserve">NCKMnFMASHTO(+ phn + q/coe  + H2O)</text>
<ellipse cx="117.9" cy="1255.7" rx="15" ry="14.8" fill="none" stroke="#707070" stroke-width="1.3"/><text x="117.9" y="1264.2" font-size="25" text-anchor="middle" fill="#2a2a2a">1</text>
<text x="142.2" y="1263.8" font-size="30" text-anchor="start" fill="#222" textLength="157.9" lengthAdjust="spacingAndGlyphs" >g o bi ru ilm</text>
<ellipse cx="331.2" cy="1255.7" rx="15" ry="14.8" fill="none" stroke="#707070" stroke-width="1.3"/><text x="331.2" y="1264.2" font-size="25" text-anchor="middle" fill="#2a2a2a">2</text>
<text x="352.4" y="1263.8" font-size="30" text-anchor="start" fill="#222" textLength="206.2" lengthAdjust="spacingAndGlyphs" >g o chl bi ru ilm</text>
<ellipse cx="601.3" cy="1255.7" rx="15" ry="14.8" fill="none" stroke="#707070" stroke-width="1.3"/><text x="601.3" y="1264.2" font-size="25" text-anchor="middle" fill="#2a2a2a">3</text>
<text x="619.8" y="1263.8" font-size="30" text-anchor="start" fill="#222" textLength="136.8" lengthAdjust="spacingAndGlyphs" >g bi ru ilm</text>
<ellipse cx="788" cy="1255.7" rx="15" ry="14.8" fill="none" stroke="#707070" stroke-width="1.3"/><text x="788" y="1264.2" font-size="25" text-anchor="middle" fill="#2a2a2a">4</text>
<text x="806.2" y="1263.8" font-size="30" text-anchor="start" fill="#222" textLength="184.0" lengthAdjust="spacingAndGlyphs" >g chl bi ru ilm</text>
<ellipse cx="1028.6" cy="1255.7" rx="15" ry="14.8" fill="none" stroke="#707070" stroke-width="1.3"/><text x="1028.6" y="1264.2" font-size="25" text-anchor="middle" fill="#2a2a2a">5</text>
<text x="1055.7" y="1263.8" font-size="30" text-anchor="start" fill="#222" textLength="236.5" lengthAdjust="spacingAndGlyphs" >g chl bi ru ilm sph</text>
<ellipse cx="119.3" cy="1313.4" rx="15" ry="14.8" fill="none" stroke="#707070" stroke-width="1.3"/><text x="119.3" y="1321.9" font-size="25" text-anchor="middle" fill="#2a2a2a">6</text>
<text x="148.6" y="1318.7" font-size="30" text-anchor="start" fill="#222" textLength="201.4" lengthAdjust="spacingAndGlyphs" >g chl bi ilm sph</text>
<ellipse cx="391" cy="1313.4" rx="15" ry="14.8" fill="none" stroke="#707070" stroke-width="1.3"/><text x="391" y="1321.9" font-size="25" text-anchor="middle" fill="#2a2a2a">7</text>
<text x="413.3" y="1318.7" font-size="30" text-anchor="start" fill="#222" textLength="227.3" lengthAdjust="spacingAndGlyphs" >g o bi chl sph ilm</text>
<ellipse cx="678.2" cy="1313.4" rx="15" ry="14.8" fill="none" stroke="#707070" stroke-width="1.3"/><text x="678.2" y="1321.9" font-size="25" text-anchor="middle" fill="#2a2a2a">8</text>
<text x="705.3" y="1318.7" font-size="30" text-anchor="start" fill="#222" textLength="105.4" lengthAdjust="spacingAndGlyphs" >gl g o ru</text>
<ellipse cx="857.7" cy="1313.4" rx="15" ry="14.8" fill="none" stroke="#707070" stroke-width="1.3"/><text x="857.7" y="1321.9" font-size="25" text-anchor="middle" fill="#2a2a2a">9</text>
<text x="882.0" y="1318.7" font-size="30" text-anchor="start" fill="#222" textLength="139.5" lengthAdjust="spacingAndGlyphs" >gl g o bi ru</text>
<ellipse cx="1076.5" cy="1313.4" rx="15" ry="14.8" fill="none" stroke="#707070" stroke-width="1.3"/><text x="1076.5" y="1321.9" font-size="25" text-anchor="middle" fill="#2a2a2a" textLength="13" lengthAdjust="spacingAndGlyphs">10</text>
<text x="1095.6" y="1318.7" font-size="30" text-anchor="start" fill="#222" textLength="190.9" lengthAdjust="spacingAndGlyphs" >gl g o chl bi ru</text>
<ellipse cx="119.3" cy="1366.4" rx="15" ry="14.8" fill="none" stroke="#707070" stroke-width="1.3"/><text x="119.3" y="1374.9" font-size="25" text-anchor="middle" fill="#2a2a2a" textLength="13" lengthAdjust="spacingAndGlyphs">11</text>
<text x="143.9" y="1373.5" font-size="30" text-anchor="start" fill="#222" textLength="154.6" lengthAdjust="spacingAndGlyphs" >gl g o chl ru</text>
<ellipse cx="353.6" cy="1366.4" rx="15" ry="14.8" fill="none" stroke="#707070" stroke-width="1.3"/><text x="353.6" y="1374.9" font-size="25" text-anchor="middle" fill="#2a2a2a" textLength="13" lengthAdjust="spacingAndGlyphs">12</text>
<text x="373.5" y="1373.5" font-size="30" text-anchor="start" fill="#222" textLength="166.4" lengthAdjust="spacingAndGlyphs" >gl g jd chl ru</text>
<ellipse cx="584.2" cy="1366.4" rx="15" ry="14.8" fill="none" stroke="#707070" stroke-width="1.3"/><text x="584.2" y="1374.9" font-size="25" text-anchor="middle" fill="#2a2a2a" textLength="13" lengthAdjust="spacingAndGlyphs">13</text>
<text x="617.0" y="1373.5" font-size="30" text-anchor="start" fill="#222" textLength="162.4" lengthAdjust="spacingAndGlyphs" >g jd chl ru ct</text>
</svg>
</body></html>
